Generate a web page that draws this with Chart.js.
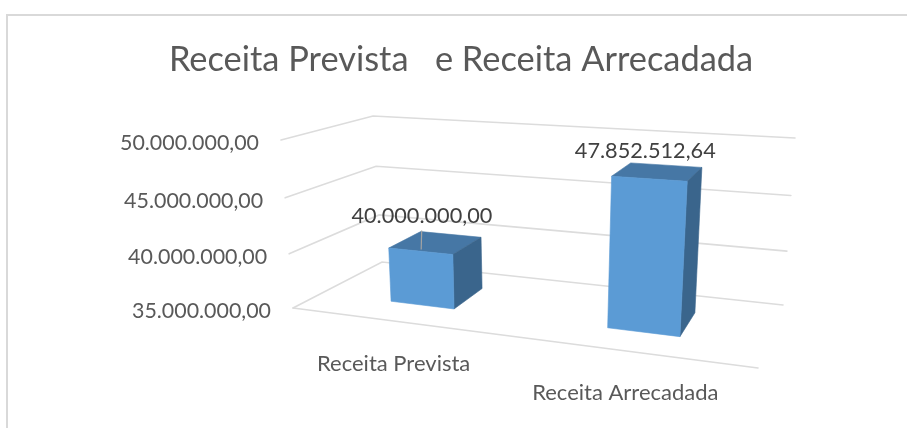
<!DOCTYPE html>
<html lang="pt-BR">
<head>
<meta charset="utf-8">
<title>Receita Prevista e Receita Arrecadada</title>
<script src="https://cdn.jsdelivr.net/npm/chart.js@4"></script>
<style>html,body{margin:0;padding:0;background:#fff}canvas{display:block}</style>
</head>
<body>
<canvas id="c" width="907" height="428"></canvas>
<script>
const chartTitle = 'Receita Prevista   e Receita Arrecadada';
const categories = ['Receita Prevista', 'Receita Arrecadada'];
const receita = [40000000, 47852512.64];
const yMin = 35000000, yMax = 50000000, yStep = 5000000;

const FONT = 'Lato, Carlito, sans-serif';
const fmt = v => new Intl.NumberFormat('pt-BR', {minimumFractionDigits: 2, maximumFractionDigits: 2}).format(v);

// Perspective box: corners of the 3D plot on screen (front/back, floor/top)
const floorFL = [293, 308], floorFR = [758, 368], floorBL = [382, 262], floorBR = [783, 305];
const topFL = [281, 140], topFR = [772, 170], topBL = [373, 116], topBR = [795, 138];
const kX = 1.148, kY = 1.05, zFront = 0.33, zBack = 0.73;
const lerp = (a, b, t) => [a[0] + (b[0] - a[0]) * t, a[1] + (b[1] - a[1]) * t];
function project(u, v, z) {
  const x = u / (u + kX * (1 - u));
  const y = v / (v + kY * (1 - v));
  const lo = lerp(lerp(floorFL, floorFR, x), lerp(floorBL, floorBR, x), z);
  const hi = lerp(lerp(topFL, topFR, x), lerp(topBL, topBR, x), z);
  return lerp(lo, hi, y);
}
function poly(ctx, pts, fill) {
  ctx.beginPath();
  pts.forEach((p, i) => i ? ctx.lineTo(p[0], p[1]) : ctx.moveTo(p[0], p[1]));
  ctx.closePath();
  ctx.fillStyle = fill;
  ctx.strokeStyle = fill;
  ctx.lineWidth = 0.6;
  ctx.fill();
  ctx.stroke();
}
function line(ctx, a, b, color, w) {
  ctx.beginPath();
  ctx.moveTo(a[0], a[1]);
  ctx.lineTo(b[0], b[1]);
  ctx.strokeStyle = color;
  ctx.lineWidth = w;
  ctx.stroke();
}
const labelNudge = [[-29, -18], [-21, -14]];

const box3d = {
  id: 'box3d',
  beforeDraw(chart) {
    const ctx = chart.ctx;
    ctx.save();
    ctx.fillStyle = '#fff';
    ctx.fillRect(0, 0, chart.width, chart.height);
    ctx.strokeStyle = '#d9d9d9';
    ctx.lineWidth = 2;
    ctx.strokeRect(7, 15, chart.width + 20, chart.height + 20);
    ctx.restore();
  },
  beforeDatasetsDraw(chart) {
    const ctx = chart.ctx, ys = chart.scales.y, xs = chart.scales.x, a = chart.chartArea;
    ctx.save();
    ctx.lineCap = 'round';
    ys.ticks.forEach(t => {
      const v = (a.bottom - ys.getPixelForValue(t.value)) / a.height;
      const p0 = project(0, v, 0), p1 = project(0, v, 1), p2 = project(1, v, 1);
      ctx.beginPath();
      ctx.moveTo(p0[0], p0[1]); ctx.lineTo(p1[0], p1[1]); ctx.lineTo(p2[0], p2[1]);
      ctx.strokeStyle = '#dcdcdc';
      ctx.lineWidth = 1.6;
      ctx.stroke();
      // value axis label, following the slanted edge of the box
      ctx.font = '21.4px ' + FONT;
      ctx.fillStyle = '#595959';
      ctx.textAlign = 'right';
      ctx.textBaseline = 'middle';
      ctx.fillText(t.label, p0[0] - 22, p0[1] + 3);
    });
    line(ctx, project(0, 0, 0), project(1, 0, 0), '#dcdcdc', 1.6);
    // category labels under the front floor edge
    ctx.font = '22px ' + FONT;
    ctx.fillStyle = '#595959';
    ctx.textAlign = 'center';
    ctx.textBaseline = 'middle';
    xs.ticks.forEach((t, i) => {
      const u = (xs.getPixelForTick(i) - a.left) / a.width;
      const p = project(u, 0, 0);
      ctx.fillText(xs.getLabelForValue(t.value), p[0] - 4, p[1] + 42);
    });
    ctx.restore();
  },
  beforeDatasetDraw(chart, args) {
    const ctx = chart.ctx, a = chart.chartArea;
    ctx.save();
    args.meta.data.forEach(el => {
      const u0 = (el.x - el.width / 2 - a.left) / a.width, u1 = (el.x + el.width / 2 - a.left) / a.width;
      const v0 = Math.max(0, (a.bottom - el.base) / a.height), v1 = (a.bottom - el.y) / a.height;
      const fbl = project(u0, v0, zFront), fbr = project(u1, v0, zFront), ftl = project(u0, v1, zFront), ftr = project(u1, v1, zFront);
      const bbr = project(u1, v0, zBack), btl = project(u0, v1, zBack), btr = project(u1, v1, zBack);
      poly(ctx, [ftl, btl, btr, ftr], '#4677a5');
      poly(ctx, [ftr, btr, bbr, fbr], '#3a658c');
      poly(ctx, [ftl, ftr, fbr, fbl], '#5b9bd5');
    });
    ctx.restore();
    return false;
  },
  afterDatasetsDraw(chart) {
    const ctx = chart.ctx, a = chart.chartArea, meta = chart.getDatasetMeta(0);
    ctx.save();
    meta.data.forEach((el, i) => {
      const u0 = (el.x - el.width / 2 - a.left) / a.width, u1 = (el.x + el.width / 2 - a.left) / a.width;
      const v1 = (a.bottom - el.y) / a.height;
      const l = project(u0, v1, zBack), r = project(u1, v1, zBack);
      const cx = (l[0] + r[0]) / 2 + labelNudge[i][0], cy = (l[1] + r[1]) / 2 + labelNudge[i][1];
      if (i === 0) line(ctx, [l[0] + 1, l[1] - 1], [l[0] + 0.5, l[1] + 18], '#a3a3a3', 1.2);
      ctx.font = '21.7px ' + FONT;
      ctx.fillStyle = '#404040';
      ctx.textAlign = 'center';
      ctx.textBaseline = 'middle';
      ctx.fillText(fmt(receita[i]), cx, cy);
    });
    ctx.restore();
  }
};

new Chart(document.getElementById('c'), {
  type: 'bar',
  data: {
    labels: categories,
    datasets: [{label: 'Receita', data: receita, backgroundColor: '#5b9bd5', barPercentage: 0.305, categoryPercentage: 1}]
  },
  plugins: [box3d],
  options: {
    responsive: false,
    animation: false,
    layout: {padding: {left: 120, right: 105, top: 0, bottom: 28}},
    plugins: {
      legend: {display: false},
      tooltip: {enabled: false},
      title: {
        display: true,
        text: chartTitle,
        color: '#595959',
        font: {family: FONT, size: 34.4, weight: 'normal'},
        padding: {top: 39, bottom: 10}
      }
    },
    scales: {
      x: {display: false, type: 'category'},
      y: {display: false, min: yMin, max: yMax, ticks: {stepSize: yStep, callback: fmt}}
    }
  }
});
</script>
</body>
</html>
